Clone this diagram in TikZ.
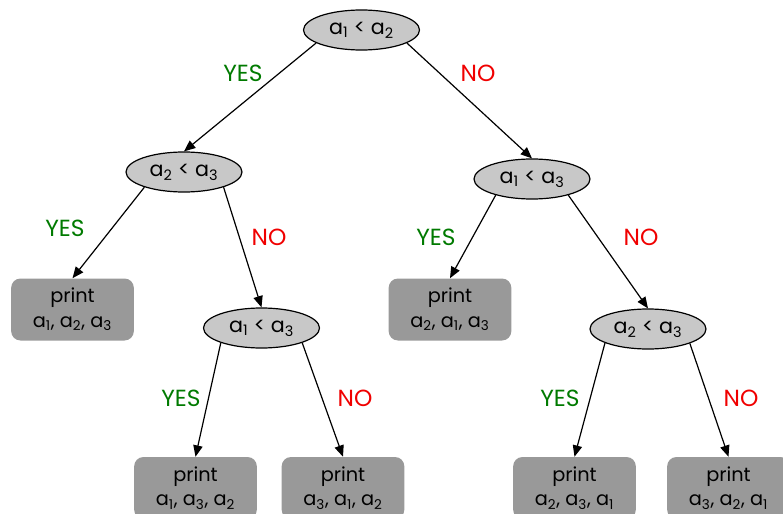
\documentclass[tikz,border=0pt]{standalone}
\usepackage{fontspec}
\setmainfont{Poppins}
\usetikzlibrary{arrows.meta,shapes.geometric}

\definecolor{testfill}{HTML}{C8C8C8}
\definecolor{leaffill}{HTML}{999999}
\definecolor{yesgreen}{HTML}{007A00}
\definecolor{nored}{HTML}{F00000}

\tikzset{
  test/.style={ellipse, draw=black, line width=0.9pt, fill=testfill,
    minimum width=87pt, minimum height=30pt, inner sep=0pt,
    font=\fontsize{15.5}{18}\selectfont},
  leaf/.style={rectangle, rounded corners=7pt, fill=leaffill,
    minimum width=92pt, minimum height=46.5pt, inner sep=0pt, align=center,
    font=\fontsize{14.5}{18.5}\selectfont},
  edge/.style={line width=0.9pt, -{Triangle[length=8.5pt,width=7pt]}},
  yes/.style={text=yesgreen, font=\fontsize{17.5}{20}\selectfont},
  no/.style={text=nored, font=\fontsize{17.5}{20}\selectfont}
}

\newcommand{\va}[1]{a\textsubscript{#1}}

\begin{document}
\begin{tikzpicture}[x=0.75pt,y=-0.75pt]
  \clip (0,0) rectangle (783,514);
  \useasboundingbox (0,0) rectangle (783,514);

  % comparisons
  \node[test] (root) at (361.5,30)  {\va1 < \va2};
  \node[test] (L1)   at (184,172)   {\va2 < \va3};
  \node[test] (R1)   at (532,179)   {\va1 < \va3};
  \node[test] (M1)   at (261.5,328) {\va1 < \va3};
  \node[test] (M2)   at (648,329)   {\va2 < \va3};

  % outcomes
  \node[leaf] (B1) at (72.5,309.5) {print\\\va1, \va2, \va3};
  \node[leaf] (B2) at (450,309.5)  {print\\\va2, \va1, \va3};
  \node[leaf] (B3) at (195.5,488)  {print\\\va1, \va3, \va2};
  \node[leaf] (B4) at (343,488)    {print\\\va3, \va1, \va2};
  \node[leaf] (B5) at (574.5,488)  {print\\\va2, \va3, \va1};
  \node[leaf] (B6) at (728.5,488)  {print\\\va3, \va2, \va1};

  % branches
  \draw[edge] (root.196) -- (L1.north);
  \draw[edge] (root.344) -- (R1.north);
  \draw[edge] (L1.201)   -- (B1.north);
  \draw[edge] (L1.339)   -- (M1.north);
  \draw[edge] (R1.204)   -- (B2.north);
  \draw[edge] (R1.336)   -- (M2.north);
  \draw[edge] (M1.200)   -- (B3.north);
  \draw[edge] (M1.340)   -- (B4.north);
  \draw[edge] (M2.198)   -- (B5.north);
  \draw[edge] (M2.341)   -- (B6.north);

  % branch labels
  \node[yes] (y0) at (243,73)  {YES};
  \node[no]  (n0) at (478,73)  {NO};
  \node[yes] (y1) at (65,228)  {YES};
  \node[no]  (n1) at (269,237) {NO};
  \node[yes] (y2) at (436,237) {YES};
  \node[no]  (n2) at (641,237) {NO};
  \node[yes] (y3) at (181,398) {YES};
  \node[no]  (n3) at (355,398) {NO};
  \node[yes] (y4) at (560,398) {YES};
  \node[no]  (n4) at (741,398) {NO};
\end{tikzpicture}
\end{document}
